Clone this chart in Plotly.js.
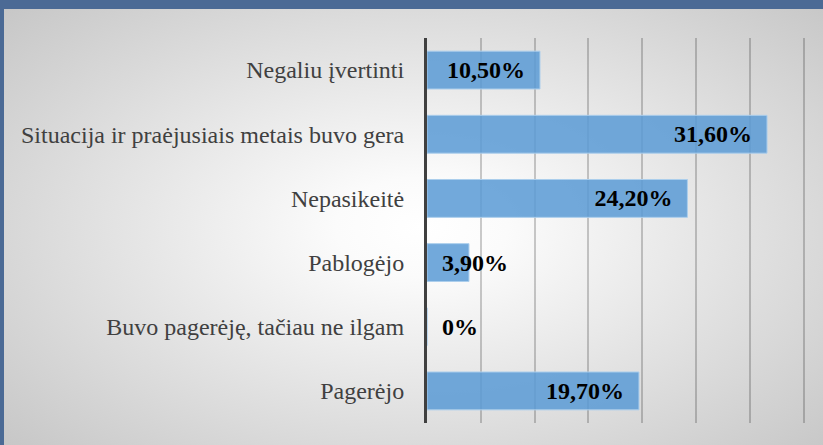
<!DOCTYPE html>
<html>
<head>
<meta charset="utf-8">
<script src="https://cdn.plot.ly/plotly-3.0.1.min.js"></script>
<style>
  html, body { margin: 0; padding: 0; }
  body { width: 823px; height: 445px; background: #4b6a95; position: relative; overflow: hidden; }
  #panel { position: absolute; left: 4px; top: 9px; right: 0; bottom: 0;
    background: radial-gradient(ellipse 70% 75% at 51% 50%, #ffffff 0%, #fbfbfb 15%, #c6c6c6 100%); }
  #chart { position: absolute; left: 0; top: 0; width: 823px; height: 445px; }
</style>
</head>
<body>
<div id="panel"></div>
<div id="chart"></div>
<script>
// Categories, top to bottom as shown
const categories = [
  "Negaliu įvertinti",
  "Situacija ir praėjusiais metais buvo gera",
  "Nepasikeitė",
  "Pablogėjo",
  "Buvo pagerėję, tačiau ne ilgam",
  "Pagerėjo"
];
const values = [10.5, 31.6, 24.2, 3.9, 0, 19.7];
const tickValues = [0, 5, 10, 15, 20, 25, 30, 35];

const NB = "\u00a0";
function fmt(v) {
  return v === 0 ? "0%" : v.toFixed(2).replace(".", ",") + "%";
}
// labels that fit inside the bar end vs. small ones drawn from the base
const bigIdx = [], smallIdx = [];
values.forEach((v, i) => (v >= 8 ? bigIdx : smallIdx).push(i));

const SERIF = "'Liberation Serif', 'Times New Roman', Times, serif";
const barColor = "rgba(91,155,213,0.86)";
const barLine = "rgba(172,206,236,1)";
const labelFont = { family: SERIF, size: 24, color: "#000000", weight: "bold" };

const traceBig = {
  type: "bar", orientation: "h",
  y: bigIdx.map(i => categories[i]),
  x: bigIdx.map(i => values[i]),
  text: bigIdx.map(i => fmt(values[i]) + NB + NB),
  textposition: "inside",
  insidetextanchor: "end",
  constraintext: "none",
  textfont: labelFont,
  insidetextfont: labelFont,
  marker: { color: barColor, line: { color: barLine, width: 1 } },
  hoverinfo: "none"
};
const traceSmall = {
  type: "bar", orientation: "h",
  y: smallIdx.map(i => categories[i]),
  x: smallIdx.map(i => values[i]),
  text: smallIdx.map(i => NB + NB + fmt(values[i])),
  textposition: smallIdx.map(i => (values[i] === 0 ? "outside" : "inside")),
  insidetextanchor: "start",
  constraintext: "none",
  cliponaxis: false,
  textfont: labelFont,
  insidetextfont: labelFont,
  outsidetextfont: labelFont,
  marker: { color: barColor, line: { color: barLine, width: 1 } },
  hoverinfo: "none"
};

const layout = {
  width: 823, height: 445,
  margin: { l: 427, r: 14, t: 38, b: 22, pad: 0 },
  paper_bgcolor: "rgba(0,0,0,0)",
  plot_bgcolor: "rgba(0,0,0,0)",
  showlegend: false,
  barmode: "overlay",
  bargap: 0.41,
  font: { family: SERIF },
  xaxis: {
    range: [0, 35.5],
    tickvals: tickValues,
    showticklabels: false,
    ticks: "",
    showgrid: true,
    gridcolor: "rgba(0,0,0,0.2)",
    gridwidth: 2,
    zeroline: false,
    showline: false
  },
  yaxis: {
    type: "category",
    categoryorder: "array",
    categoryarray: categories,
    autorange: "reversed",
    showline: true,
    linecolor: "#404040",
    linewidth: 3,
    ticks: "",
    ticklabelstandoff: 15,
    showgrid: false,
    zeroline: false,
    tickfont: { family: SERIF, size: 24, color: "#404040" }
  }
};

Plotly.newPlot("chart", [traceBig, traceSmall], layout, { displayModeBar: false, staticPlot: true });
</script>
</body>
</html>
